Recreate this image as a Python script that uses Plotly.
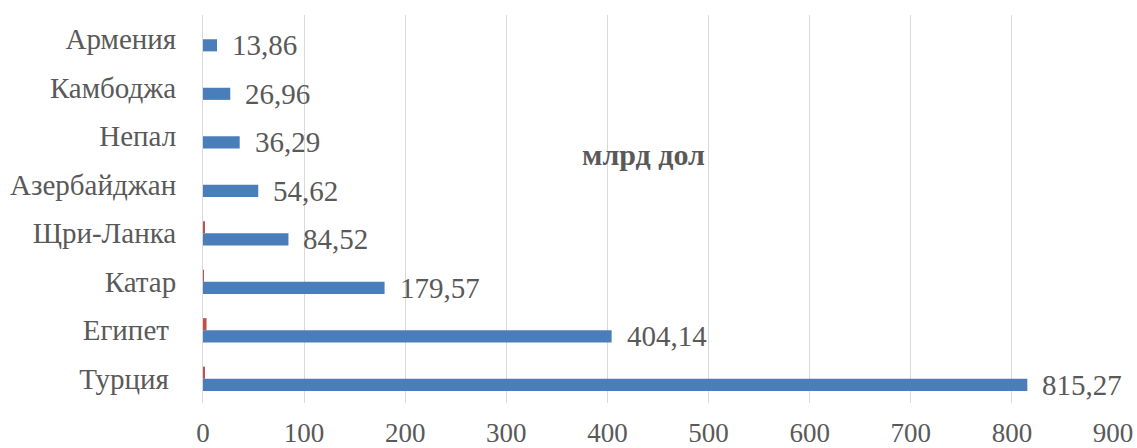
import plotly.graph_objects as go

countries = ["Турция ", "Египет ", "Катар", "Щри-Ланка", "Азербайджан", "Непал", "Камбоджа", "Армения"]
gdp_values = [815.27, 404.14, 179.57, 84.52, 54.62, 36.29, 26.96, 13.86]
second_values = [2.0, 3.5, 0.5, 1.5, 0.0, 0.0, 0.0, 0.0]
x_ticks = [0, 100, 200, 300, 400, 500, 600, 700, 800, 900]

gdp_labels = [f"{v:.2f}".replace(".", ",") for v in gdp_values]

TEXT = "#595959"
FONT = "Liberation Serif"

fig = go.Figure()
fig.add_trace(go.Bar(
    y=countries, x=gdp_values, orientation="h",
    marker=dict(color="#4A7EBB", line=dict(width=0)),
    hoverinfo="x+y",
))
fig.add_trace(go.Bar(
    y=countries, x=second_values, orientation="h",
    marker=dict(color="#C0504D", line=dict(width=0)),
    hoverinfo="x+y",
))

# value labels to the right of the blue bars
for c, v, t in zip(countries, gdp_values, gdp_labels):
    fig.add_annotation(
        x=v, y=c, text=t, showarrow=False, xanchor="left",
        xshift=13, yshift=-6,
        font=dict(family=FONT, size=29, color=TEXT),
    )

fig.add_annotation(
    x=0.484, y=0.64, xref="paper", yref="paper", text="<b>млрд дол</b>",
    showarrow=False, font=dict(family=FONT, size=30, color=TEXT),
)

fig.update_layout(
    width=1137, height=448,
    margin=dict(l=203, r=24, t=15, b=45, autoexpand=False),
    barmode="group", bargap=0.5, bargroupgap=0,
    plot_bgcolor="white", paper_bgcolor="white",
    showlegend=False,
    font=dict(family=FONT, color=TEXT),
)
fig.update_xaxes(
    range=[0, 900], tickvals=x_ticks, ticktext=[str(t) for t in x_ticks],
    showgrid=True, gridcolor="#D9D9D9", gridwidth=1, zeroline=False,
    showline=False, ticks="", tickfont=dict(family=FONT, size=27, color=TEXT),
    ticklabelstandoff=11, automargin=False,
)
fig.update_yaxes(
    showline=True, linecolor="#D9D9D9", linewidth=1, showgrid=False,
    ticks="", tickfont=dict(family=FONT, size=29, color=TEXT),
    ticklabelstandoff=20, automargin=False,
)

fig.write_html("out.html")
